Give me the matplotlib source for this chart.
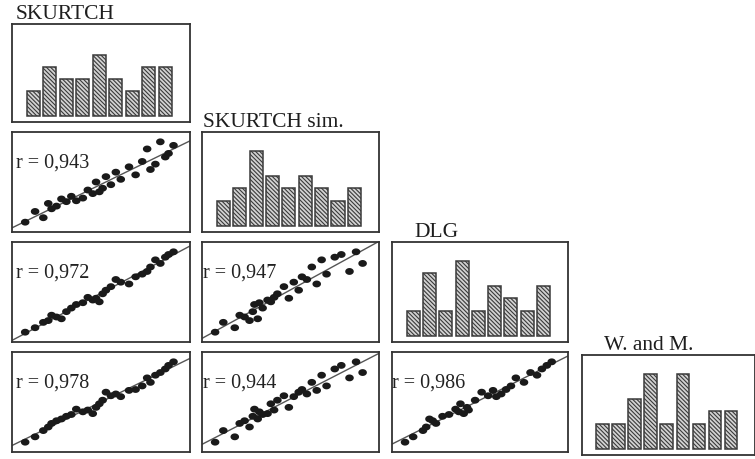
import numpy as np
import matplotlib.pyplot as plt

# variable names (diagonal titles) and printed correlations
names = ["SKURTCH", "SKURTCH sim.", "DLG", "W. and M."]
r_labels = {(1, 0): "r = 0,943", (2, 0): "r = 0,972", (2, 1): "r = 0,947",
            (3, 0): "r = 0,978", (3, 1): "r = 0,944", (3, 2): "r = 0,986"}

# 30 observations, values in histogram-bin units (9 bins)
skurtch = [0.0, 0.6, 1.1, 1.4, 1.6, 1.9, 2.2, 2.5, 2.8, 3.1, 3.5, 3.8, 4.1, 4.3, 4.5,
           4.7, 4.9, 5.2, 5.5, 5.8, 6.3, 6.7, 7.1, 7.4, 7.6, 7.9, 8.2, 8.5, 8.7, 9.0]
skurtch_sim = [0.0, 1.2, 0.5, 2.1, 1.5, 1.8, 2.6, 2.3, 2.9, 2.4, 2.7, 3.6, 3.2, 4.5, 3.4,
               3.8, 5.1, 4.2, 5.6, 4.8, 6.2, 5.3, 6.8, 8.2, 5.9, 6.5, 9.0, 7.3, 7.7, 8.6]
dlg = [0.0, 0.5, 1.1, 1.3, 1.9, 1.7, 1.5, 2.3, 2.7, 3.1, 3.3, 3.9, 3.6, 3.8, 3.4,
       4.3, 4.7, 5.1, 5.9, 5.6, 5.4, 6.2, 6.5, 6.8, 7.3, 8.1, 7.7, 8.4, 8.7, 9.0]
w_and_m = [0.0, 0.6, 1.3, 1.7, 2.1, 2.4, 2.6, 2.9, 3.1, 3.7, 3.4, 3.6, 3.2, 3.9, 4.3,
           4.7, 5.6, 5.2, 5.4, 5.1, 5.8, 5.9, 6.3, 7.2, 6.7, 7.5, 7.8, 8.2, 8.6, 9.0]
data = [skurtch, skurtch_sim, dlg, w_and_m]

plt.rcParams['font.family'] = ['Liberation Serif', 'DejaVu Serif']
plt.rcParams['hatch.linewidth'] = 0.8

W, H = 755, 459
fig = plt.figure(figsize=(W / 100, H / 100), dpi=100)

# panel boxes in pixels
col_left = [12, 202, 392, 582]
col_width = [178, 177, 176, 173]
row_top = [24, 132, 242, 352]
row_height = [98, 100, 100, 100]
title_dx = [0.02, 0.005, 0.13, 0.13]
label_dx = [0.02, 0.005, 0.0]

xlim = (-0.8, 10.0)
ylim = (-1.1, 10.1)
frame = '#333333'

# slightly flattened dot, like the printed markers
t = np.linspace(0, 2 * np.pi, 40)
blob = np.column_stack([1.25 * np.cos(t), np.sin(t)])

for i in range(4):
    for j in range(i + 1):
        top = row_top[i] + (3 if i == j == 3 else 0)
        ax = fig.add_axes([col_left[j] / W, 1 - (top + row_height[i]) / H,
                           col_width[j] / W, row_height[i] / H])
        ax.set_xticks([])
        ax.set_yticks([])
        for s in ax.spines.values():
            s.set_color(frame)
            s.set_linewidth(1.3)
        ax.set_xlim(*xlim)
        if i == j:
            ax.hist(data[i], bins=9, rwidth=0.8, facecolor='#d2d2d2',
                    edgecolor='#3a3a3a', linewidth=1.1, hatch='\\' * 8)
            ax.set_ylim(-0.5, 7.5)
            ax.text(title_dx[i], 1.0, names[i], transform=ax.transAxes,
                    fontsize=15.5, color='#1e1e1e', ha='left', va='bottom')
        else:
            x = np.array(data[j])
            y = np.array(data[i])
            k, b = np.polyfit(x, y, 1)
            xx = np.array(xlim)
            ax.plot(xx, k * xx + b, color='#555555', lw=1.0)
            ax.scatter(x, y, s=38, marker=blob, color='#1a1a1a', edgecolors='none', zorder=3)
            ax.set_ylim(*ylim)
            ax.text(label_dx[j], 0.69, r_labels[(i, j)], transform=ax.transAxes,
                    fontsize=14.5, color='#222222', ha='left', va='center')

fig.savefig('out.png', dpi=100)
